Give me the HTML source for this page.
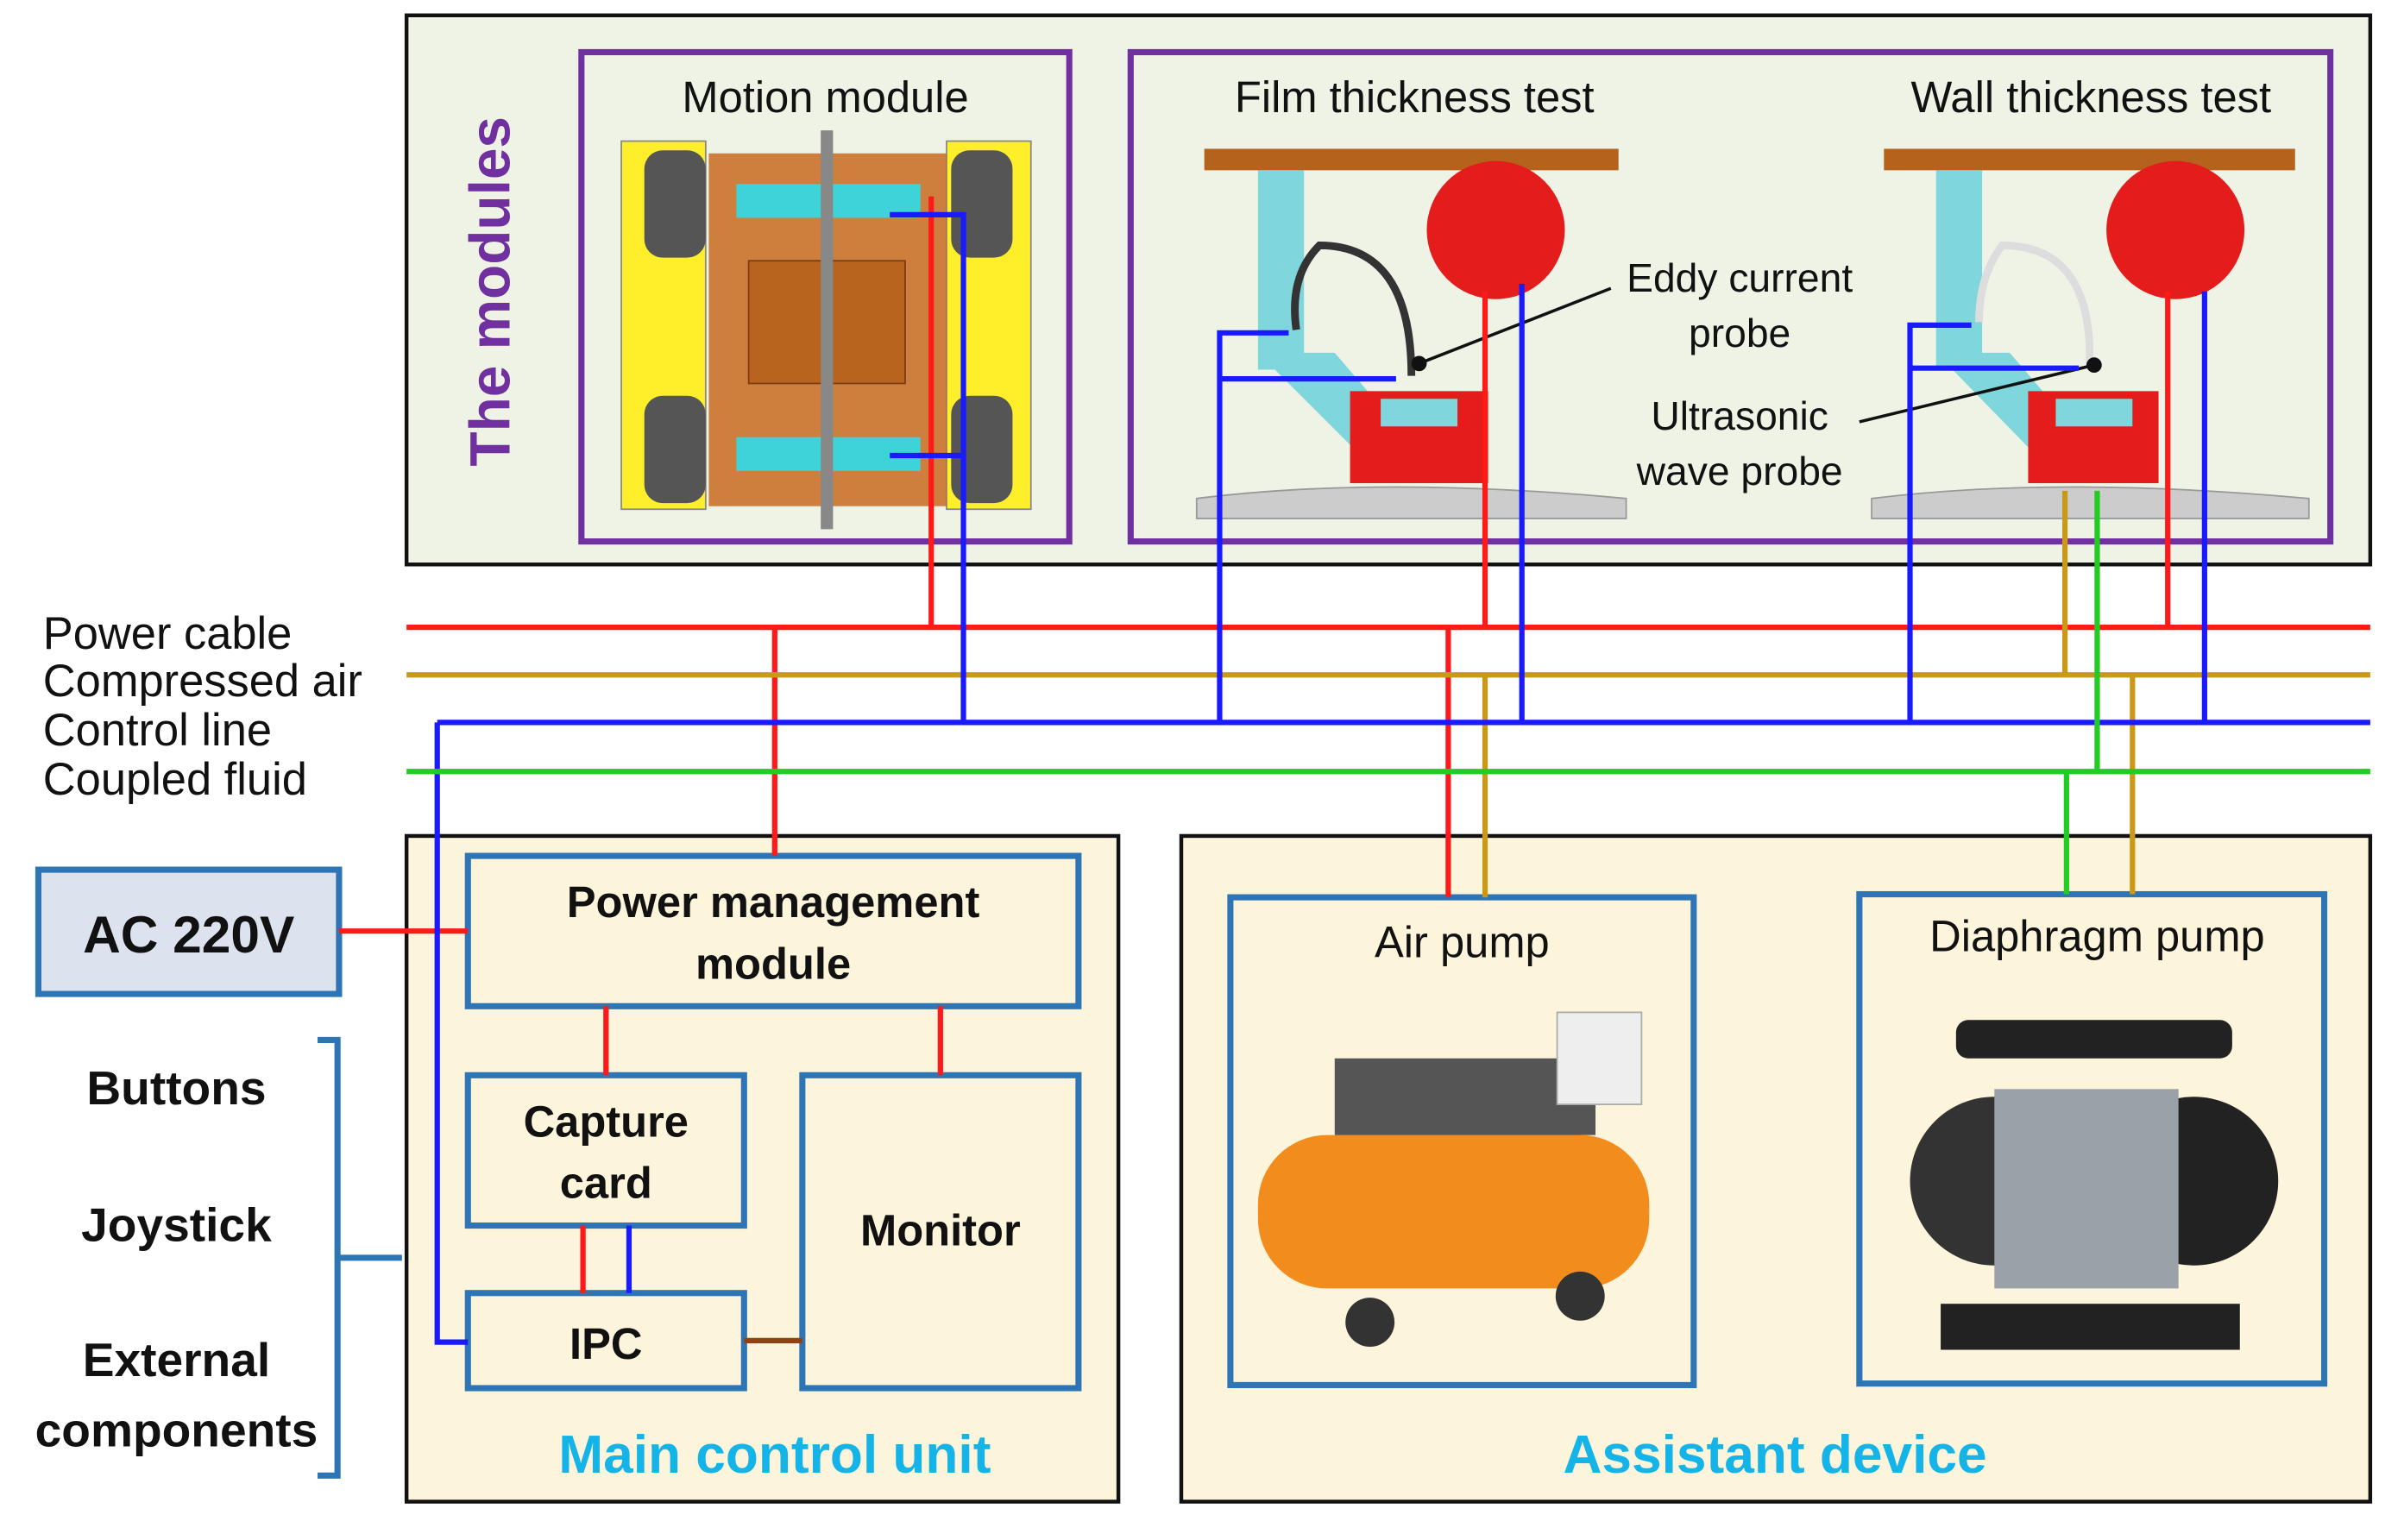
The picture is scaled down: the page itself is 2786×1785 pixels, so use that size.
<!DOCTYPE html>
<html><head><meta charset="utf-8"><style>
html,body{margin:0;padding:0;background:#fff}
svg{display:block}
text{font-family:"Liberation Sans","DejaVu Sans",sans-serif}
</style></head><body>
<svg width="2786" height="1785" viewBox="0 0 1567 1004" preserveAspectRatio="none" xmlns="http://www.w3.org/2000/svg">
<rect x="265" y="10" width="1280" height="358" fill="#eef3e6" stroke="#111" stroke-width="2.5"/>
<rect x="379" y="34" width="318" height="319" fill="#eef3e6" stroke="#7030a0" stroke-width="4"/>
<rect x="737" y="34" width="782" height="319" fill="#eef3e6" stroke="#7030a0" stroke-width="4"/>
<text x="332" y="190" transform="rotate(-90 332 190)" text-anchor="middle" font-size="37" font-weight="bold" fill="#7030a0">The modules</text>
<text x="538" y="73" text-anchor="middle" font-size="28.5" fill="#111">Motion module</text>
<text x="922" y="73" text-anchor="middle" font-size="28.5" fill="#111">Film thickness test</text>
<text x="1363" y="73" text-anchor="middle" font-size="28.5" fill="#111">Wall thickness test</text>
<g>
<rect x="405" y="92" width="55" height="240" fill="#ffef2a" stroke="#888"/>
<rect x="617" y="92" width="55" height="240" fill="#ffef2a" stroke="#888"/>
<rect x="420" y="98" width="40" height="70" rx="12" fill="#555"/>
<rect x="420" y="258" width="40" height="70" rx="12" fill="#555"/>
<rect x="620" y="98" width="40" height="70" rx="12" fill="#555"/>
<rect x="620" y="258" width="40" height="70" rx="12" fill="#555"/>
<rect x="462" y="100" width="155" height="230" fill="#c86a20" opacity="0.85"/>
<rect x="488" y="170" width="102" height="80" fill="#b8641e" stroke="#7a3e10"/>
<rect x="480" y="120" width="120" height="22" fill="#3ed3d8"/>
<rect x="480" y="285" width="120" height="22" fill="#3ed3d8"/>
<rect x="535" y="85" width="8" height="260" fill="#888"/>
</g>
<g>
<rect x="785" y="97" width="270" height="14" fill="#b5631c"/>
<rect x="820" y="111" width="30" height="130" fill="#7fd6dc"/>
<polygon points="820,230 870,230 930,300 900,310" fill="#7fd6dc"/>
<circle cx="975" cy="150" r="45" fill="#e41c1c"/>
<rect x="880" y="255" width="90" height="60" fill="#e41c1c"/>
<rect x="900" y="260" width="50" height="18" fill="#7fd6dc"/>
<path d="M780 325 Q900 310 1060 325 L1060 338 L780 338 Z" fill="#ccc" stroke="#999"/>
<path d="M920 245 Q920 160 860 160 Q840 180 845 215" fill="none" stroke="#333" stroke-width="5"/>
</g>
<g>
<rect x="1228" y="97" width="268" height="14" fill="#b5631c"/>
<rect x="1262" y="111" width="30" height="130" fill="#7fd6dc"/>
<polygon points="1262,230 1310,230 1370,300 1340,310" fill="#7fd6dc"/>
<circle cx="1418" cy="150" r="45" fill="#e41c1c"/>
<rect x="1322" y="255" width="85" height="60" fill="#e41c1c"/>
<rect x="1340" y="260" width="50" height="18" fill="#7fd6dc"/>
<path d="M1220 325 Q1340 310 1505 325 L1505 338 L1220 338 Z" fill="#ccc" stroke="#999"/>
<path d="M1362 240 Q1365 160 1305 160 Q1290 180 1290 210" fill="none" stroke="#ddd" stroke-width="5"/>
</g>
<line x1="925" y1="237" x2="1050" y2="188" stroke="#111" stroke-width="2"/>
<circle cx="925" cy="237" r="5" fill="#111"/>
<line x1="1212" y1="275" x2="1365" y2="238" stroke="#111" stroke-width="2"/>
<circle cx="1365" cy="238" r="5" fill="#111"/>
<g font-size="26" fill="#111" text-anchor="middle">
<text x="1134" y="190">Eddy current</text>
<text x="1134" y="226">probe</text>
<text x="1134" y="280">Ultrasonic</text>
<text x="1134" y="316">wave probe</text>
</g>
<rect x="265" y="545" width="464" height="434" fill="#fdf4dc" stroke="#111" stroke-width="2.5"/>
<rect x="770" y="545" width="775" height="434" fill="#fdf4dc" stroke="#111" stroke-width="2.5"/>
<g fill="none" stroke="#2e75b6" stroke-width="4">
<rect x="305" y="558" width="398" height="98"/>
<rect x="305" y="701" width="180" height="98"/>
<rect x="523" y="701" width="180" height="204"/>
<rect x="305" y="843" width="180" height="62"/>
<rect x="802" y="585" width="302" height="318"/>
<rect x="1212" y="583" width="303" height="319"/>
</g>
<rect x="25" y="567" width="196" height="81" fill="#dce3ef" stroke="#2e75b6" stroke-width="4"/>
<text x="123" y="621" text-anchor="middle" font-size="34" font-weight="bold" fill="#111">AC 220V</text>
<g font-size="28.5" font-weight="bold" fill="#111" text-anchor="middle">
<text x="504" y="598">Power management</text>
<text x="504" y="638">module</text>
<text x="395" y="741">Capture</text>
<text x="395" y="781">card</text>
<text x="613" y="812">Monitor</text>
<text x="395" y="886">IPC</text>
</g>
<g font-size="31" font-weight="bold" fill="#111" text-anchor="middle">
<text x="115" y="720">Buttons</text>
<text x="115" y="809">Joystick</text>
<text x="115" y="897">External</text>
<text x="115" y="943">components</text>
</g>
<text x="953" y="624" text-anchor="middle" font-size="28.5" fill="#111">Air pump</text>
<text x="1367" y="620" text-anchor="middle" font-size="28.5" fill="#111">Diaphragm pump</text>
<text x="505" y="960" text-anchor="middle" font-size="35" font-weight="bold" fill="#14b4e8">Main control unit</text>
<text x="1157" y="960" text-anchor="middle" font-size="35" font-weight="bold" fill="#14b4e8">Assistant device</text>
<g font-size="29.5" fill="#111">
<text x="28" y="423">Power cable</text>
<text x="28" y="454">Compressed air</text>
<text x="28" y="486">Control line</text>
<text x="28" y="518">Coupled fluid</text>
</g>
<g>
<rect x="820" y="740" width="255" height="100" rx="45" fill="#f28c1c"/>
<rect x="870" y="690" width="170" height="50" fill="#555"/>
<rect x="1015" y="660" width="55" height="60" fill="#eee" stroke="#aaa"/>
<circle cx="893" cy="862" r="16" fill="#333"/>
<circle cx="1030" cy="845" r="16" fill="#333"/>
</g>
<g>
<rect x="1275" y="665" width="180" height="25" rx="8" fill="#222"/>
<circle cx="1300" cy="770" r="55" fill="#333"/>
<circle cx="1430" cy="770" r="55" fill="#222"/>
<rect x="1300" y="710" width="120" height="130" fill="#9aa1a8"/>
<rect x="1265" y="850" width="195" height="30" fill="#222"/>
</g>
<path d="M207 678 L220 678 L220 962 L207 962 M220 820 L262 820" fill="none" stroke="#2e75b6" stroke-width="4"/>
<g fill="none" stroke-width="3.5">
<g stroke="#ff1a1a">
<line x1="265" y1="409" x2="1545" y2="409"/>
<line x1="607" y1="128" x2="607" y2="409"/>
<line x1="505" y1="409" x2="505" y2="558"/>
<line x1="221" y1="607" x2="305" y2="607"/>
<line x1="395" y1="656" x2="395" y2="701"/>
<line x1="613" y1="656" x2="613" y2="701"/>
<line x1="380" y1="799" x2="380" y2="843"/>
<line x1="968" y1="190" x2="968" y2="409"/>
<line x1="944" y1="409" x2="944" y2="585"/>
<line x1="1413" y1="190" x2="1413" y2="409"/>
</g>
<g stroke="#c99a1a">
<line x1="265" y1="440" x2="1545" y2="440"/>
<line x1="968" y1="440" x2="968" y2="585"/>
<line x1="1346" y1="320" x2="1346" y2="440"/>
<line x1="1390" y1="440" x2="1390" y2="583"/>
</g>
<g stroke="#1a1aff">
<line x1="285" y1="471" x2="1545" y2="471"/>
<polyline points="285,471 285,875 305,875"/>
<line x1="410" y1="799" x2="410" y2="843"/>
<polyline points="580,140 628,140 628,471"/>
<polyline points="580,297 628,297"/>
<polyline points="840,217 795,217 795,471"/>
<polyline points="795,247 910,247"/>
<line x1="992" y1="185" x2="992" y2="471"/>
<polyline points="1285,212 1245,212 1245,471"/>
<polyline points="1245,240 1355,240"/>
<line x1="1437" y1="190" x2="1437" y2="471"/>
</g>
<g stroke="#22cc22">
<line x1="265" y1="503" x2="1545" y2="503"/>
<line x1="1367" y1="320" x2="1367" y2="503"/>
<line x1="1347" y1="503" x2="1347" y2="583"/>
</g>
<line x1="485" y1="874" x2="523" y2="874" stroke="#8b4513"/>
</g>
</svg>
</body></html>
